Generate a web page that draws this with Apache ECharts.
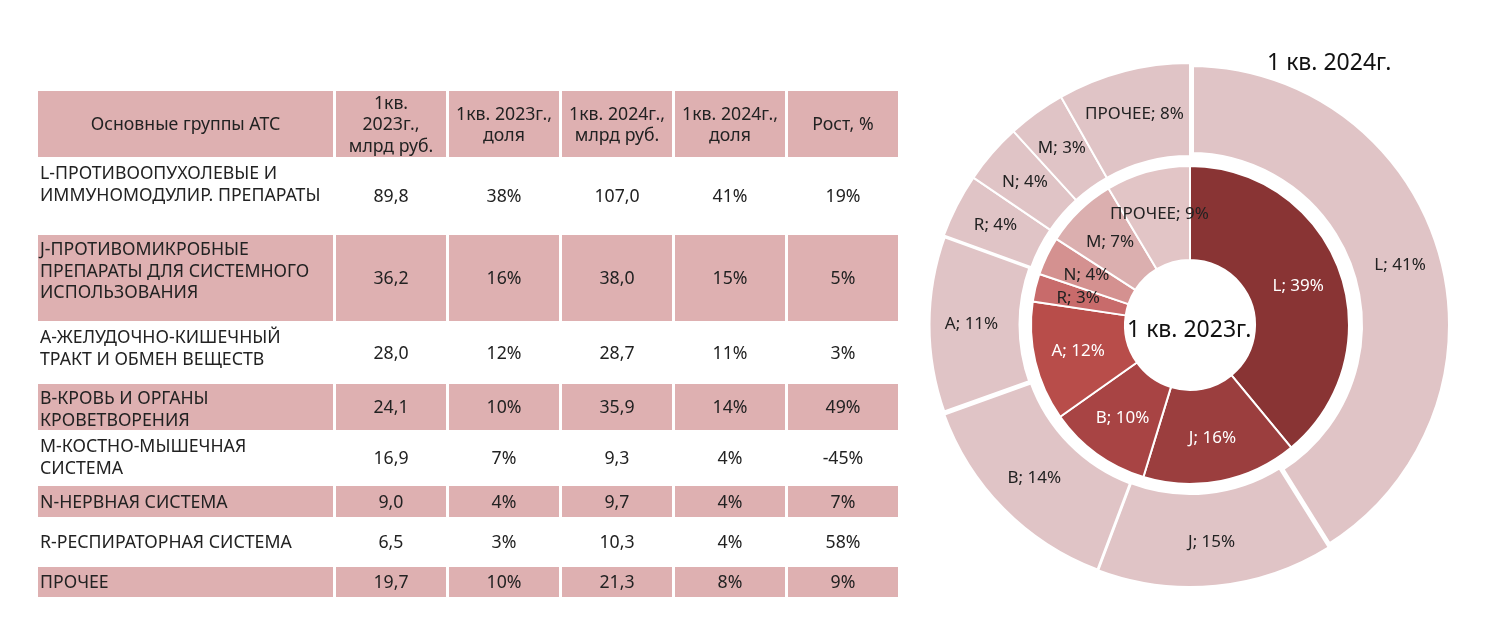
<!DOCTYPE html>
<html>
<head>
<meta charset="utf-8">
<script src="https://cdn.jsdelivr.net/npm/echarts@6/dist/echarts.min.js"></script>
<style>
  html, body { margin: 0; padding: 0; background: #fff; }
  #chart { position: absolute; left: 0; top: 0; width: 1503px; height: 643px; }
  #tbl { position: absolute; left: 35px; top: 89px; border-collapse: separate; border-spacing: 3px 2px;
         font-family: 'Noto Sans', sans-serif; font-size: 17.7px; color: #222; table-layout: fixed; }
  #tbl td { padding: 0 1px; text-align: center; vertical-align: middle; line-height: 21.5px;
            white-space: pre; overflow: visible; box-sizing: border-box; }
  #tbl td.name { text-align: left; padding-left: 2px; }
  #tbl tr.pink td { background: #deb0b1; }
</style>
</head>
<body>
<div id="chart"></div>
<table id="tbl"></table>
<script>
(function() {
	'use strict';

	// table columns
	var headers = ['Основные группы АТС', '1кв.\n2023г.,\nмлрд руб.', '1кв. 2023г.,\nдоля', '1кв. 2024г.,\nмлрд руб.', '1кв. 2024г.,\nдоля', 'Рост, %'];
	var groups = [
		'L-ПРОТИВООПУХОЛЕВЫЕ И\nИММУНОМОДУЛИР. ПРЕПАРАТЫ',
		'J-ПРОТИВОМИКРОБНЫЕ\nПРЕПАРАТЫ ДЛЯ СИСТЕМНОГО\nИСПОЛЬЗОВАНИЯ',
		'А-ЖЕЛУДОЧНО-КИШЕЧНЫЙ\nТРАКТ И ОБМЕН ВЕЩЕСТВ',
		'B-КРОВЬ И ОРГАНЫ\nКРОВЕТВОРЕНИЯ',
		'M-КОСТНО-МЫШЕЧНАЯ\nСИСТЕМА',
		'N-НЕРВНАЯ СИСТЕМА',
		'R-РЕСПИРАТОРНАЯ СИСТЕМА',
		'ПРОЧЕЕ'
	];
	var codes = ['L', 'J', 'A', 'B', 'M', 'N', 'R', 'ПРОЧЕЕ'];
	var rub2023 = [89.8, 36.2, 28.0, 24.1, 16.9, 9.0, 6.5, 19.7];
	var share2023 = ['38%', '16%', '12%', '10%', '7%', '4%', '3%', '10%'];
	var rub2024 = [107.0, 38.0, 28.7, 35.9, 9.3, 9.7, 10.3, 21.3];
	var share2024 = ['41%', '15%', '11%', '14%', '4%', '4%', '4%', '8%'];
	var growth = ['19%', '5%', '3%', '49%', '-45%', '7%', '58%', '9%'];

	// layout of the table
	var colWidths = [295, 110, 110, 110, 110, 110];
	var rowHeights = [66, 74, 86, 59, 45, 52, 31, 46, 30];
	var nameAlign = ['top', 'top', 'top', 'top', 'top', 'middle', 'middle', 'middle'];

	// pie order and labels
	var pieOrder = ['L', 'J', 'B', 'A', 'R', 'N', 'M', 'ПРОЧЕЕ'];
	var pieLabel2023 = [39, 16, 10, 12, 3, 4, 7, 9];
	var pieLabel2024 = [41, 15, 14, 11, 4, 4, 3, 8];
	var innerColors = ['#893434', '#9b3e3e', '#a84444', '#b84d4a', '#c86b6b', '#d49190', '#dbafaf', '#e2c5c6'];
	var innerText = ['#fff', '#fff', '#fff', '#fff', '#222', '#222', '#222', '#222'];

	var fmt = function(v) { return v.toFixed(1).replace('.', ','); };

	/* table */
	var tbl = document.getElementById('tbl');
	var html = '<colgroup>';
	colWidths.forEach(function(w) { html += '<col style="width:' + w + 'px">'; });
	html += '</colgroup><tr class="pink" style="height:' + rowHeights[0] + 'px">';
	headers.forEach(function(h) {
		html += '<td>' + h + '</td>';
	});
	html += '</tr>';
	groups.forEach(function(g, i) {
		var cells = [fmt(rub2023[i]), share2023[i], fmt(rub2024[i]), share2024[i], growth[i]];
		html += '<tr class="' + (i % 2 ? 'pink' : '') + '" style="height:' + rowHeights[i + 1] + 'px">' +
			'<td class="name" style="vertical-align:' + nameAlign[i] + (nameAlign[i] === 'top' ? ';padding-top:3px' : '') + '">' + g + '</td>';
		cells.forEach(function(c) { html += '<td>' + c + '</td>'; });
		html += '</tr>';
	});
	tbl.innerHTML = html;

	/* pies */
	var innerData = pieOrder.map(function(c, i) {
		var k = codes.indexOf(c);
		return {
			name: c, value: rub2023[k], pct: pieLabel2023[i],
			itemStyle: { color: innerColors[i] },
			label: { color: innerText[i] }
		};
	});
	var outerBorder = { L: 8, A: 5, B: 3 };
	var outerData = pieOrder.map(function(c, i) {
		var k = codes.indexOf(c);
		return {
			name: c, value: rub2024[k], pct: pieLabel2024[i],
			itemStyle: { borderWidth: outerBorder[c] || 2 }
		};
	});

	var labelText = function(p) { return p.name + '; ' + p.data.pct + '%'; };

	var option = {
		animation: false,
		textStyle: { fontFamily: 'Noto Sans' },
		graphic: [
			{ type: 'text', left: 1267, top: 52, style: { text: '1 кв. 2024г.', fontSize: 23, fill: '#111', fontFamily: 'Noto Sans' } },
			{ type: 'text', left: 1127, top: 319, z: 100, style: { text: '1 кв. 2023г.', fontSize: 23, fill: '#111', fontFamily: 'Noto Sans' } }
		],
		series: [
			{
				name: '1 кв. 2023г.',
				type: 'pie',
				center: [1190, 325],
				radius: [65, 159],
				startAngle: 90,
				clockwise: true,
				silent: true,
				itemStyle: { borderColor: '#fff', borderWidth: 2 },
				label: { position: 'inside', fontSize: 17, formatter: labelText },
				labelLine: { show: false },
				data: innerData
			},
			{
				name: '1 кв. 2024г.',
				type: 'pie',
				center: [1190, 325],
				radius: [169, 262],
				startAngle: 90,
				clockwise: true,
				silent: true,
				itemStyle: { color: '#e0c4c6', borderColor: '#fff', borderWidth: 2 },
				label: { position: 'inside', fontSize: 17, color: '#222', formatter: labelText },
				labelLine: { show: false },
				data: outerData
			}
		]
	};
	var chart = echarts.init(document.getElementById('chart'));
	chart.setOption(option);
})();
</script>
</body>
</html>
